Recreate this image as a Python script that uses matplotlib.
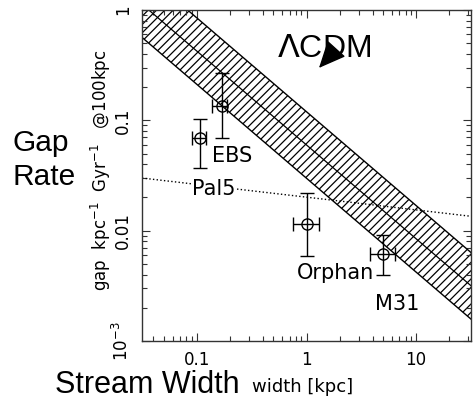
import numpy as np
import matplotlib
matplotlib.use('Agg')
import matplotlib.pyplot as plt
from matplotlib.ticker import FixedLocator, FixedFormatter, LogLocator, NullFormatter

plt.rcParams['font.family'] = 'DejaVu Sans'
plt.rcParams['hatch.linewidth'] = 0.9

# LCDM band (width in kpc, gap rate)
band_w = [0.0316, 31.6]
band_mid = [1.13, 0.00317]
band_lo = [0.565, 0.00158]
band_hi = [2.26, 0.00634]

# Pal5 dotted line
pal5_w = [0.0316, 31.6]
pal5_rate = [0.030, 0.0135]

# measured streams
pt_w = [0.107, 0.169, 1.0, 4.97]
pt_rate = [0.0687, 0.135, 0.0115, 0.0061]
pt_w_lo = [0.090, 0.138, 0.76, 3.8]
pt_w_hi = [0.122, 0.188, 1.29, 6.4]
pt_r_lo = [0.037, 0.069, 0.0059, 0.0040]
pt_r_hi = [0.103, 0.27, 0.022, 0.0091]

labels = ['EBS', 'Pal5', 'Orphan', 'M31']
label_w = [0.138, 0.091, 0.82, 4.2]
label_r = [0.0419, 0.0210, 0.00364, 0.0019]

fig = plt.figure(figsize=(4.73, 4.03), dpi=100)
ax = fig.add_axes([142/473, 1-341/403, 329/473, 331/403])
ax.set_xscale('log')
ax.set_yscale('log')
ax.set_xlim(10**-1.5, 10**1.5)
ax.set_ylim(1e-3, 1)

ax.fill_between(band_w, band_lo, band_hi, facecolor='none', edgecolor='k',
                hatch='////', linewidth=0)
ax.plot(band_w, band_lo, 'k-', lw=1)
ax.plot(band_w, band_hi, 'k-', lw=1)
ax.plot(band_w, band_mid, 'k-', lw=0.9)

ax.plot(pal5_w, pal5_rate, 'k:', lw=1)

xerr = [np.array(pt_w) - np.array(pt_w_lo), np.array(pt_w_hi) - np.array(pt_w)]
yerr = [np.array(pt_rate) - np.array(pt_r_lo), np.array(pt_r_hi) - np.array(pt_rate)]
ax.errorbar(pt_w, pt_rate, xerr=xerr, yerr=yerr, fmt='o', mfc='none', mec='k',
            ms=8, ecolor='k', elinewidth=1, capsize=5, capthick=1, color='k')

for lab, x, y in zip(labels, label_w, label_r):
    bb = dict(facecolor='white', edgecolor='none', pad=0) if lab == 'Pal5' else None
    ax.text(x, y, lab, fontsize=15, ha='left', va='baseline', bbox=bb)

ax.text(1.45, 0.375, r'$\Lambda$CDM', fontsize=23, family='Liberation Sans',
        ha='center', va='baseline')
ax.annotate('', xy=(1.25, 0.286), xytext=(1.85, 0.44),
            arrowprops=dict(arrowstyle='-|>,head_length=1.0,head_width=0.45',
                            mutation_scale=17, color='k', lw=1))

ax.xaxis.set_major_locator(FixedLocator([0.1, 1, 10]))
ax.xaxis.set_major_formatter(FixedFormatter(['0.1', '1', '10']))
ax.xaxis.set_minor_locator(LogLocator(base=10, subs=np.arange(2, 10)))
ax.xaxis.set_minor_formatter(NullFormatter())
ax.yaxis.set_major_locator(FixedLocator([1e-3, 0.01, 0.1, 1]))
ax.yaxis.set_major_formatter(FixedFormatter([r'$10^{-3}$', '0.01', '0.1', '1']))
ax.yaxis.set_minor_locator(LogLocator(base=10, subs=np.arange(2, 10)))
ax.yaxis.set_minor_formatter(NullFormatter())

ax.tick_params(which='both', direction='in', top=True, right=True, color='#333333')
ax.tick_params(which='major', length=6, width=0.8, labelsize=12, pad=7)
ax.tick_params(which='minor', length=3.5, width=0.8)
for t in ax.get_yticklabels():
    t.set_rotation(90)
    t.set_va('center')
for s in ax.spines.values():
    s.set_color('#333333')
    s.set_linewidth(1)

fig.text(12/473, 1-151/403, 'Gap', fontsize=21.5, family='Liberation Sans', va='baseline')
fig.text(12/473, 1-185/403, 'Rate', fontsize=21.5, family='Liberation Sans', va='baseline')
fig.text(101/473, 1-170/403, r'gap  kpc$^{-1}$  Gyr$^{-1}$   @100kpc', fontsize=12,
         rotation=90, ha='center', va='center')
fig.text(55/473, 1-393/403, 'Stream Width', fontsize=22, family='Liberation Sans',
         va='baseline')
fig.text(252/473, 1-392/403, 'width [kpc]', fontsize=13, va='baseline')

fig.savefig('out.png', dpi=100)
